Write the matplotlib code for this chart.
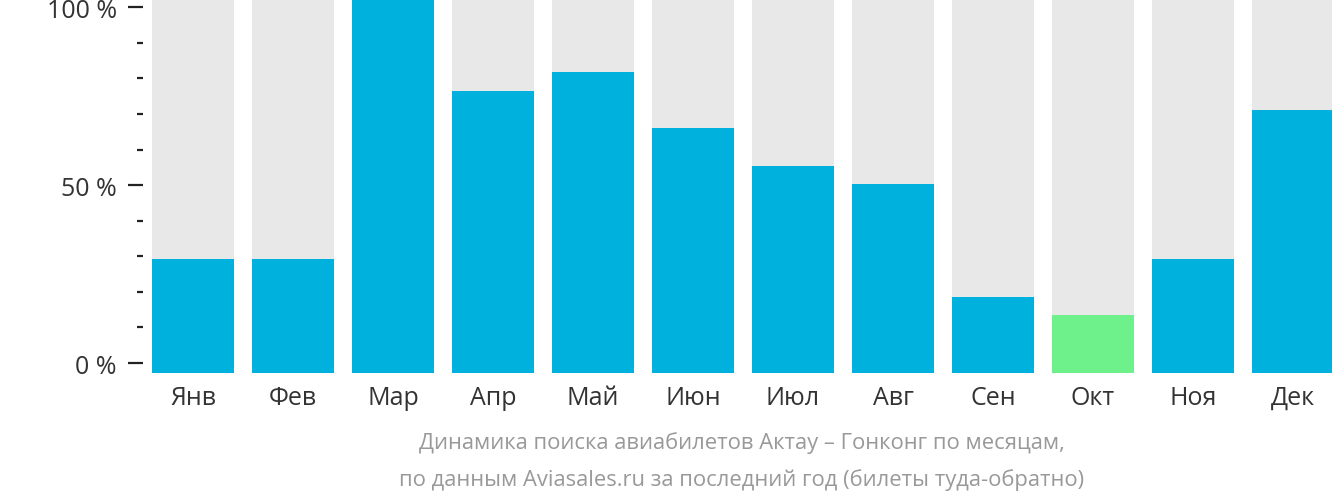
import matplotlib.pyplot as plt

months = ['Янв', 'Фев', 'Мар', 'Апр', 'Май', 'Июн', 'Июл', 'Авг', 'Сен', 'Окт', 'Ноя', 'Дек']
values = [30.4, 30.4, 100, 75.4, 80.5, 65.5, 55.3, 50.5, 20.2, 15.4, 30.4, 70.3]
lowest = 'Окт'
caption = ['Динамика поиска авиабилетов Актау – Гонконг по месяцам,',
           'по данным Aviasales.ru за последний год (билеты туда-обратно)']

plt.rcParams['font.family'] = ['Open Sans', 'DejaVu Sans']

W, H = 1332, 502
fig = plt.figure(figsize=(W / 100, H / 100), dpi=100)
ax = fig.add_axes([152 / W, (H - 373.5) / H, 1180 / W, 373.5 / H])

x = range(len(months))
colors = ['#6ef08a' if m == lowest else '#00b1dd' for m in months]
ax.bar(x, [100] * len(months), width=0.82, color='#e8e8e8')
ax.bar(x, values, width=0.82, color=colors)
ax.set_xlim(-0.41, 11.39)
ax.set_ylim(0, 100)

for s in ax.spines.values():
    s.set_visible(False)
ax.set_yticks([])
ax.set_xticks(list(x))
ax.set_xticklabels(months, fontsize=18, color='#333333')
ax.tick_params(axis='x', length=0, pad=9)

# percent scale on the left is offset from the bar scale
k = 3.735 / 3.557
off = 9.5 / 3.557
sec = ax.secondary_yaxis(-9 / 1180, functions=(lambda b: b * k - off, lambda t: (t + off) / k))
sec.spines['left'].set_visible(False)
sec.set_yticks([0, 50, 100])
sec.set_yticklabels(['0 %', '50 %', '100 %'], fontsize=18, color='#333333')
sec.set_yticks(range(10, 100, 10), minor=True)
sec.tick_params(axis='y', which='major', length=10.8, width=1.6, color='#222222', pad=8)
sec.tick_params(axis='y', which='minor', length=4.3, width=1.6, color='#222222')

cx = (152 + 590) / W
fig.text(cx, 1 - 443 / H, caption[0], ha='center', va='center', fontsize=15.8, color='#999999')
fig.text(cx, 1 - 480 / H, caption[1], ha='center', va='center', fontsize=15.8, color='#999999')

fig.savefig('out.png', dpi=100)
